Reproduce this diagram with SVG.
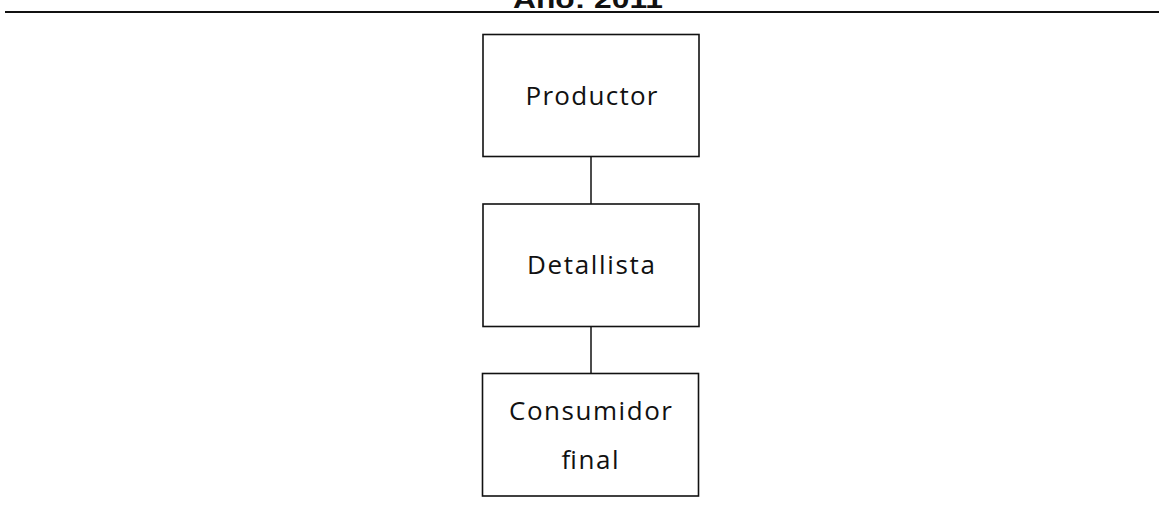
<svg xmlns="http://www.w3.org/2000/svg" width="1159" height="508" viewBox="0 0 1159 508">
<style>
.box{fill:#fff;stroke:#111;stroke-width:1.6}
.lbl{font-family:"Open Sans","Noto Sans",sans-serif;font-size:26px;fill:#111;text-anchor:middle}
.conn{stroke:#111;stroke-width:1.5;fill:none}
</style>
<rect width="1159" height="508" fill="#fff"/>
<text x="588" y="8" font-family="Liberation Sans,Arial,sans-serif" font-weight="bold" font-size="26" text-anchor="middle" textLength="150" lengthAdjust="spacingAndGlyphs" fill="#111">Año: 2011</text>
<line x1="5" y1="12" x2="1159" y2="12" stroke="#111" stroke-width="1.8"/>
<g id="connectors">
<line class="conn" x1="591" y1="157" x2="591" y2="204"/>
<line class="conn" x1="591" y1="327" x2="591" y2="373"/>
</g>
<g id="productor">
<rect class="box" x="483" y="34.5" width="216" height="122"/>
<text class="lbl" x="591.5" y="105" textLength="132" lengthAdjust="spacing">Productor</text>
</g>
<g id="detallista">
<rect class="box" x="483" y="204" width="216" height="122.5"/>
<text class="lbl" x="591" y="273.5" textLength="128" lengthAdjust="spacing">Detallista</text>
</g>
<g id="consumidor">
<rect class="box" x="482.5" y="373.5" width="216" height="122.5"/>
<text class="lbl" x="590.5" y="419.5" textLength="163" lengthAdjust="spacing">Consumidor</text>
<text class="lbl" x="590" y="468.5" textLength="57" lengthAdjust="spacing">final</text>
</g>
</svg>
